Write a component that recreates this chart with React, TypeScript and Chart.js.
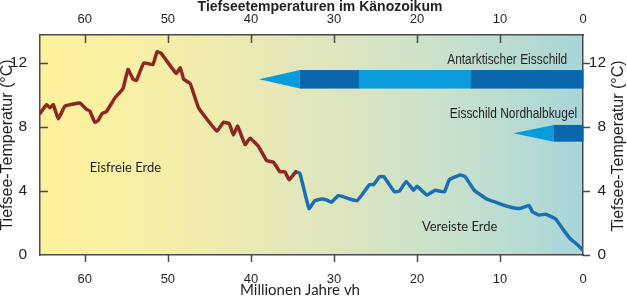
import React, { useEffect, useRef } from 'react';
import { Chart, registerables } from 'chart.js';

Chart.register(...registerables);

// ---- data (ages in million years before present, temperatures in °C) ----
const brownAge = [65.4, 64.6, 64.2, 63.8, 63.2, 62.4, 60.6, 59.8, 59.4, 58.8, 58.4, 57.9, 57.4, 56.4, 55.4, 54.8, 54.2, 53.8, 52.9, 51.8, 51.3, 50.8, 49.0, 48.5, 48.1, 47.3, 46.3, 44.1, 43.3, 42.6, 42.1, 41.6, 40.7, 40.1, 39.1, 38.1, 37.3, 36.5, 35.9, 35.4, 34.6];
const brownTemp = [8.85, 9.4, 9.2, 9.4, 8.5, 9.3, 9.5, 9.1, 9.0, 8.3, 8.4, 8.85, 8.96, 9.8, 10.4, 11.6, 11.0, 10.9, 12.0, 11.9, 12.7, 12.6, 11.35, 11.7, 11.0, 10.7, 9.2, 7.75, 8.3, 8.2, 7.5, 8.05, 6.9, 7.3, 6.8, 5.9, 5.8, 5.2, 5.2, 4.7, 5.2];

const blueAge = [34.6, 34.1, 33.0, 32.3, 31.5, 30.9, 30.3, 29.5, 28.9, 28.1, 27.2, 26.5, 25.7, 25.2, 24.5, 24.0, 22.7, 22.1, 21.3, 20.4, 20.0, 18.8, 17.8, 16.7, 16.1, 14.8, 14.2, 13.1, 11.6, 10.0, 8.8, 7.6, 6.5, 6.1, 5.3, 4.5, 3.3, 2.4, 1.6, 0.8, 0.0];
const blueTemp = [5.2, 5.1, 2.9, 3.4, 3.5, 3.45, 3.3, 3.7, 3.65, 3.5, 3.4, 3.85, 4.4, 4.4, 4.9, 4.9, 3.95, 4.0, 4.6, 4.05, 4.3, 3.75, 4.05, 3.95, 4.7, 5.0, 4.9, 4.05, 3.5, 3.2, 3.0, 2.9, 3.1, 2.7, 2.5, 2.55, 2.25, 1.6, 1.05, 0.7, 0.3];

const xTickValues = [60, 50, 40, 30, 20, 10, 0];
const yTickValues = [0, 4, 8, 12];
const X_MAX = 65.4;
const Y_MAX = 13.75;

// ice sheets: [from age, to age, kind]
const antarcticFrom = [39.0, 34.1, 27.0, 13.5];
const antarcticTo = [34.1, 27.0, 13.5, 0];
const antarcticKind = ['arrow', 'dark', 'light', 'dark'];
const antarcticBand = [10.4, 11.56];
const northFrom = [8.4, 3.5];
const northTo = [3.5, 0];
const northKind = ['arrow', 'dark'];
const northBand = [7.08, 8.13];

const TITLE = 'Tiefseetemperaturen im Känozoikum';
const X_TITLE = 'Millionen Jahre vh';
const Y_TITLE = 'Tiefsee-Temperatur (°C)';

const SANS = '"Liberation Sans", Arial, sans-serif';
const HUM = 'Lato, "Liberation Sans", sans-serif';

const LIGHT = '#0a9cda';
const DARK = '#0a66ad';

function drawBand(ctx: CanvasRenderingContext2D, xs: any, ys: any, from: number[], to: number[], kind: string[], band: number[]) {
  const yTop = ys.getPixelForValue(band[1]);
  const yBot = ys.getPixelForValue(band[0]);
  for (let i = 0; i < from.length; i++) {
    const x0 = xs.getPixelForValue(from[i]);
    const x1 = xs.getPixelForValue(to[i]);
    if (kind[i] === 'arrow') {
      ctx.fillStyle = LIGHT;
      ctx.beginPath();
      ctx.moveTo(x0, (yTop + yBot) / 2);
      ctx.lineTo(x1, yTop);
      ctx.lineTo(x1, yBot);
      ctx.closePath();
      ctx.fill();
    } else {
      ctx.fillStyle = kind[i] === 'dark' ? DARK : LIGHT;
      ctx.fillRect(x0, yTop, x1 - x0 + 0.5, yBot - yTop);
    }
  }
}

function narrowText(ctx: CanvasRenderingContext2D, text: string, xRight: number, y: number) {
  ctx.save();
  ctx.translate(xRight, y);
  ctx.scale(0.77, 1);
  ctx.textAlign = 'right';
  ctx.fillText(text, 0, 0);
  ctx.restore();
}

const decor = {
  id: 'decor',
  beforeDraw(chart: any) {
    const { ctx, chartArea: a } = chart;
    ctx.save();
    const g = ctx.createLinearGradient(a.left, 0, a.right, 0);
    g.addColorStop(0, '#fdf29c');
    g.addColorStop(0.2, '#f7efa6');
    g.addColorStop(0.5, '#e2e6bc');
    g.addColorStop(0.75, '#c9e1cc');
    g.addColorStop(1, '#a7d6d8');
    ctx.fillStyle = g;
    ctx.fillRect(a.left, a.top, a.right - a.left, a.bottom - a.top);
    ctx.restore();
  },
  beforeDatasetsDraw(chart: any) {
    const { ctx } = chart;
    const xs = chart.scales.x;
    const ys = chart.scales.y;
    ctx.save();
    drawBand(ctx, xs, ys, antarcticFrom, antarcticTo, antarcticKind, antarcticBand);
    drawBand(ctx, xs, ys, northFrom, northTo, northKind, northBand);

    ctx.fillStyle = '#231f20';
    ctx.textBaseline = 'middle';
    ctx.font = `15.5px ${SANS}`;
    narrowText(ctx, 'Antarktischer Eisschild', xs.getPixelForValue(1.9), ys.getPixelForValue(12.2));
    narrowText(ctx, 'Eisschild Nordhalbkugel', xs.getPixelForValue(0.7), ys.getPixelForValue(8.8));
    ctx.font = `13px ${HUM}`;
    ctx.textAlign = 'left';
    ctx.fillText('Eisfreie Erde', xs.getPixelForValue(59.4), ys.getPixelForValue(5.45));
    ctx.fillText('Vereiste Erde', xs.getPixelForValue(19.4), ys.getPixelForValue(1.75));
    ctx.restore();
  },
  afterDraw(chart: any) {
    const { ctx, chartArea: a } = chart;
    const xs = chart.scales.x;
    const ys = chart.scales.y;
    ctx.save();
    ctx.strokeStyle = '#4a4a4a';
    ctx.lineWidth = 1.5;
    ctx.beginPath();
    for (const v of xTickValues) {
      const px = Math.round(xs.getPixelForValue(v)) + 0.5;
      if (v !== 0) {
        ctx.moveTo(px, a.bottom);
        ctx.lineTo(px, a.bottom + 7);
        ctx.moveTo(px, a.top);
        ctx.lineTo(px, a.top + 8);
      }
    }
    for (const v of yTickValues) {
      const py = Math.round(ys.getPixelForValue(v)) + 0.5;
      if (v !== 0) {
        ctx.moveTo(a.left, py);
        ctx.lineTo(a.left + 8, py);
      }
      ctx.moveTo(a.right, py);
      ctx.lineTo(a.right + 7, py);
    }
    ctx.stroke();

    ctx.fillStyle = '#231f20';
    ctx.textBaseline = 'middle';
    ctx.textAlign = 'center';
    ctx.font = `bold 14px ${SANS}`;
    ctx.fillText(TITLE, 320, 7.5);
    ctx.font = `15px ${HUM}`;
    ctx.fillText(X_TITLE, 300, 290);

    ctx.font = `16px ${SANS}`;
    ctx.save();
    ctx.translate(8, 145);
    ctx.rotate(-Math.PI / 2);
    ctx.fillText(Y_TITLE, 0, 0);
    ctx.restore();
    ctx.save();
    ctx.translate(619, 146);
    ctx.rotate(-Math.PI / 2);
    ctx.fillText(Y_TITLE, 0, 0);
    ctx.restore();
    ctx.restore();
  },
};

export default function App() {
  const ref = useRef<HTMLCanvasElement | null>(null);
  useEffect(() => {
    document.body.style.margin = '0';
    const canvas = ref.current!;
    const xTicksCb = (s: any) => {
      s.ticks = xTickValues.map((v) => ({ value: v }));
    };
    const yTicksCb = (s: any) => {
      s.ticks = yTickValues.map((v) => ({ value: v }));
    };
    const tickFontX = { family: SANS, size: 13 };
    const tickFontY = { family: SANS, size: 15.5 };
    const chart = new Chart(canvas, {
      type: 'line',
      data: {
        datasets: [
          {
            label: 'Eisfreie Erde',
            data: brownAge.map((a, i) => ({ x: a, y: brownTemp[i] })),
            borderColor: '#8c2823',
            borderWidth: 3.5,
            pointRadius: 0,
            tension: 0.1,
            borderJoinStyle: 'round',
            borderCapStyle: 'round',
            xAxisID: 'x',
            yAxisID: 'y',
          },
          {
            label: 'Vereiste Erde',
            data: blueAge.map((a, i) => ({ x: a, y: blueTemp[i] })),
            borderColor: '#1b6fb3',
            borderWidth: 3.5,
            pointRadius: 0,
            tension: 0.1,
            borderJoinStyle: 'round',
            borderCapStyle: 'round',
            xAxisID: 'x',
            yAxisID: 'y',
          },
        ],
      },
      options: {
        responsive: false,
        animation: false,
        layout: { padding: { left: 0, right: 21, top: 0, bottom: 0 } },
        plugins: { legend: { display: false }, tooltip: { enabled: false }, title: { display: false } },
        scales: {
          x: {
            type: 'linear',
            position: 'bottom',
            reverse: true,
            min: 0,
            max: X_MAX,
            afterFit: (s: any) => { s.height = 44; },
            afterBuildTicks: xTicksCb,
            grid: { display: false },
            border: { display: true, color: '#4a4a4a', width: 1.5 },
            ticks: { padding: 8.5, autoSkip: false, maxRotation: 0, color: '#231f20', font: tickFontX },
          },
          x2: {
            type: 'linear',
            position: 'top',
            reverse: true,
            min: 0,
            max: X_MAX,
            afterFit: (s: any) => { s.height = 35; },
            afterBuildTicks: xTicksCb,
            grid: { display: false },
            border: { display: true, color: '#4a4a4a', width: 1.5 },
            ticks: { padding: 0, autoSkip: false, maxRotation: 0, color: '#231f20', font: tickFontX },
          },
          y: {
            type: 'linear',
            position: 'left',
            min: 0,
            max: Y_MAX,
            afterFit: (s: any) => { s.width = 40; },
            afterBuildTicks: yTicksCb,
            grid: { display: false },
            border: { display: true, color: '#4a4a4a', width: 1.5 },
            ticks: { padding: 5, color: '#231f20', font: tickFontY },
          },
          y2: {
            type: 'linear',
            position: 'right',
            min: 0,
            max: Y_MAX,
            afterFit: (s: any) => { s.width = 23; },
            afterBuildTicks: yTicksCb,
            grid: { display: false },
            border: { display: true, color: '#4a4a4a', width: 1.5 },
            ticks: { crossAlign: 'far', padding: 7, color: '#231f20', font: tickFontY },
          },
        },
      },
      plugins: [decor],
    } as any);
    return () => chart.destroy();
  }, []);
  return <canvas ref={ref} width={627} height={299} style={{ display: 'block' }} />;
}
